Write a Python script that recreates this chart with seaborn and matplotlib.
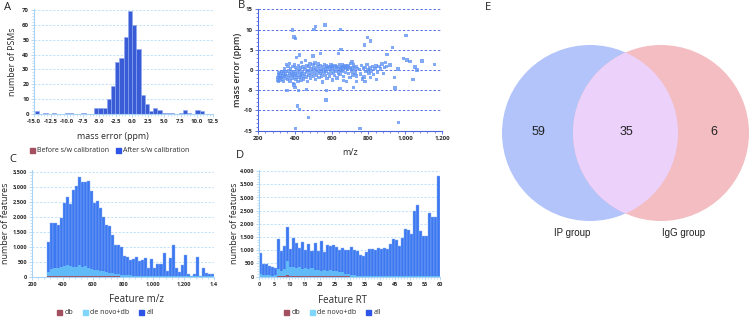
import matplotlib
matplotlib.use("Agg")
import matplotlib.pyplot as plt
from matplotlib.patches import Circle, Patch
from matplotlib.ticker import AutoMinorLocator, FixedLocator
import numpy as np
import pandas as pd
import seaborn as sns

# ---- A: mass error histogram (counts per 0.65 ppm bin, first bin starts -14.9)
err_start = -14.9
err_width = 0.65
err_counts = [2, 0, 1, 0, 1, 0, 0, 1, 1, 0, 0, 1, 0, 0, 4, 4, 4, 10, 19, 35,
              38, 52, 69, 60, 44, 13, 7, 2, 4, 3, 1, 1, 1, 0, 1, 3, 1, 0, 3, 2]

# ---- B: mass error vs m/z (main cloud + outliers)
cloud_pts = [
    (305, -2.5), (308, -1.8), (310, -1.2), (312, -2.9), (315, -0.6), (318, -2.0), (320, -1.5),
    (322, -2.6), (325, -0.9), (328, -1.9), (330, -0.3), (333, -2.2), (335, -1.3), (338, -0.7),
    (340, -2.8), (343, -1.6), (345, 0.2), (348, -1.0), (350, -2.1), (353, -0.4), (355, 1.4),
    (357, -1.4), (360, -2.4), (362, 0.8), (365, -0.2), (367, -1.8), (370, 1.6), (372, -0.9),
    (375, -2.7), (377, 0.4), (380, -1.3), (382, -0.5), (385, -2.0), (387, 0.9), (390, -1.1),
    (392, -3.3), (395, -0.3), (397, 1.2), (400, -1.7), (402, -0.8), (405, 0.6), (407, -2.4),
    (410, -1.4), (412, 0.1), (415, -0.6), (418, -2.9), (420, 1.0), (423, -1.9), (425, -0.2),
    (428, -1.2), (430, 0.5), (433, -2.5), (435, -0.9), (438, 1.9), (440, -1.5), (443, -0.4),
    (445, 0.7), (448, -2.2), (452, -1.0), (455, 0.3), (458, 2.3), (460, -1.7), (463, -0.5),
    (466, 1.1), (468, -2.8), (471, -0.1), (474, -1.3), (477, 0.8), (480, -0.7), (483, 1.6),
    (486, -2.0), (489, 0.2), (492, -1.1), (495, -0.3), (498, 1.3), (501, -1.6), (504, 0.5),
    (507, -0.8), (510, 1.7), (513, -2.4), (516, 0.0), (519, -1.2), (522, 0.9), (525, -0.4),
    (528, 1.5), (531, -1.9), (534, 0.4), (537, -0.9), (540, 1.1), (543, -0.2), (546, -1.5),
    (549, 0.7), (552, -3.0), (555, 0.1), (558, -0.6), (561, 1.3), (564, -1.3), (567, 0.5),
    (570, -0.3), (573, 1.0), (576, -2.1), (579, 0.2), (582, -0.8), (585, 0.9), (588, -1.6),
    (591, 0.6), (594, -0.1), (597, 1.2), (600, -0.9), (603, 0.4), (606, 1.0), (609, -0.5),
    (612, 0.8), (615, -1.4), (618, 0.1), (621, 1.1), (624, -0.3), (627, 0.6), (630, -2.0),
    (633, 0.9), (636, -0.7), (639, 0.3), (642, 1.3), (645, -1.1), (648, 0.5), (651, 0.0),
    (654, 0.9), (657, -0.4), (660, 1.2), (663, 0.2), (666, -1.6), (669, 0.7), (672, 1.0),
    (675, -0.6), (678, 0.4), (681, -2.9), (684, 0.8), (687, 0.1), (690, 1.1), (693, -0.9),
    (696, 0.6), (699, -1.8), (702, 0.3), (705, 1.6), (708, -0.2), (711, 2.1), (714, 0.5),
    (717, -1.2), (720, 1.2), (724, 0.2), (728, -0.7), (732, 0.9), (736, -1.5), (740, 0.4),
    (752, 0.1), (758, -1.0), (763, 1.1), (768, -2.2), (772, 0.3), (777, -1.7), (782, 0.6),
    (787, -0.4), (792, 1.3), (797, 0.0), (803, -0.8), (808, 0.5), (815, -0.2), (822, 0.9),
    (828, -1.1), (835, 0.4), (842, 1.0), (850, -0.5), (858, 0.8), (866, 0.2), (874, 1.5),
    (881, -0.9), (887, 0.6), (893, 1.8), (897, 0.9),
]
outlier_pts = [
    (387, 9.9), (395, 8.2), (405, 7.8), (513, 10.7), (564, 11.1), (505, 10.0), (649, 10.0),
    (796, 8.1), (813, 7.2), (780, 6.2), (1005, 8.5), (931, 5.5), (651, 5.1), (636, 4.1),
    (540, 4.1), (427, 3.7), (409, 3.1), (500, 3.5), (991, 2.9), (1009, 2.5), (1027, 2.1),
    (1091, 2.2), (900, 3.9), (1160, 1.4), (1054, 0.7), (1064, 0.0), (918, 1.2), (960, 0.2),
    (1042, -2.3), (942, -1.8), (945, -4.4), (964, -13.0), (755, -14.4), (404, -14.4),
    (473, -11.7), (427, -9.7), (414, -8.9), (569, -7.4), (573, -5.1), (420, -5.1), (464, -4.8),
    (358, -5.1), (395, -3.7), (402, -4.3), (645, -4.5), (718, -4.3), (845, -2.3), (813, -1.9),
    (782, -2.9), (736, -2.9), (664, -2.6), (604, -2.5),
]

# ---- C: features per 20 m/z bin, 300 - 1400
mz_start = 300
mz_width = 20
c_all = [1170, 1800, 1780, 1720, 1940, 2440, 2660, 2420, 2890, 3030,
         3310, 3140, 3170, 3200, 2860, 2460, 2530, 2300, 1980, 1720,
         1680, 1400, 1050, 1060, 1000, 700, 650, 560, 580, 650,
         520, 560, 610, 280, 600, 280, 420, 420, 800, 200,
         620, 1050, 280, 170, 400, 720, 80, 40, 80, 650,
         40, 300, 130, 100, 80]
c_denovo = [150, 250, 280, 290, 330, 360, 380, 350, 340, 320,
            390, 330, 350, 300, 260, 240, 220, 200, 180, 160,
            140, 120, 100, 90, 70, 60, 50, 45, 40, 40,
            35, 30, 30, 25, 25, 25, 20, 20, 20, 20,
            20, 20, 15, 15, 15, 15, 10, 10, 10, 10,
            10, 10, 10, 10, 10]
c_db = [10, 20, 25, 25, 30, 30, 35, 30, 30, 30,
        35, 30, 30, 25, 25, 20, 20, 20, 15, 15,
        12, 10, 10, 8, 6, 5, 5, 4, 4, 4,
        3, 3, 3, 2, 2, 2, 2, 2, 2, 2,
        2, 2, 1, 1, 1, 1, 1, 1, 1, 1,
        1, 1, 1, 1, 1]

# ---- D: features per 1 min RT bin, 0 - 60
rt_start = 0
rt_width = 1
d_all = [890, 470, 490, 400, 360, 340, 1410, 990, 1150, 1870,
         1050, 1470, 1260, 1100, 1320, 1000, 1230, 980, 1280, 960,
         1370, 940, 1190, 1170, 1210, 1120, 1010, 1100, 1020, 1000,
         1110, 1020, 960, 810, 790, 950, 1050, 1060, 1000, 1070,
         1060, 1080, 1060, 1230, 1430, 1390, 1180, 1450, 1820, 1750,
         1600, 2500, 2720, 1730, 1550, 1550, 2400, 2250, 2250, 3820]
d_denovo = [120, 60, 80, 50, 40, 50, 280, 230, 300, 600,
            350, 370, 340, 380, 300, 330, 280, 330, 250, 260,
            220, 270, 230, 250, 200, 220, 160, 180, 120, 100,
            80, 60, 40, 30, 25, 20, 20, 20, 15, 15,
            15, 15, 15, 15, 15, 15, 15, 15, 15, 15,
            15, 15, 15, 15, 10, 10, 10, 10, 10, 10]
d_db = [5, 5, 5, 5, 5, 5, 30, 25, 35, 60,
        40, 40, 35, 40, 30, 35, 30, 35, 25, 25,
        20, 25, 20, 20, 15, 15, 10, 10, 8, 8,
        5, 5, 5, 5, 5, 5, 5, 5, 5, 5,
        5, 5, 5, 5, 5, 5, 5, 5, 5, 5,
        5, 5, 5, 5, 5, 5, 5, 5, 5, 5]

# ---- E: Venn counts
venn_only_ip = 59
venn_both = 35
venn_only_igg = 6
venn_names = ["IP group", "IgG group"]

W, H = 750, 319
TXT = "#2a2a2a"
LIGHT = "#a9d3f5"
GRID = "#b3dcf8"
B_BLUE = "#4a63de"
A_BAR = "#3a5bd6"
ALL_C = "#3c78f0"
DENOVO_C = "#5fbaf7"
DB_C = "#a2505f"

sns.set_theme(style="white")
plt.rcParams["font.family"] = ["Open Sans", "DejaVu Sans"]
plt.rcParams["axes.unicode_minus"] = False

fig = plt.figure(figsize=(W / 100, H / 100), dpi=100)


def px_axes(x0, y0, x1, y1):
    """Axes from pixel box (top-left origin)."""
    return fig.add_axes([x0 / W, 1 - y1 / H, (x1 - x0) / W, (y1 - y0) / H])


def bold_ticks(ax, size):
    for lbl in ax.get_xticklabels() + ax.get_yticklabels():
        lbl.set_fontweight("bold")
        lbl.set_fontsize(size)
        lbl.set_color(TXT)


def style_axes(ax, spine_col, grid_col, grid_lw=0.6):
    for side in ["top", "right"]:
        ax.spines[side].set_visible(False)
    for side in ["left", "bottom"]:
        ax.spines[side].set_color(spine_col)
        ax.spines[side].set_linewidth(0.8)
    ax.tick_params(axis="both", which="major", colors=spine_col, length=2.2, width=0.6,
                   direction="out", pad=1.5, left=True, bottom=True)
    ax.tick_params(axis="both", which="minor", colors=spine_col, length=1.2, width=0.5,
                   direction="out", left=True, bottom=True)
    ax.xaxis.set_minor_locator(AutoMinorLocator(5))
    ax.yaxis.set_minor_locator(AutoMinorLocator(5))
    ax.grid(False)
    for yv in ax.get_yticks():
        ax.axhline(yv, color=grid_col, lw=grid_lw, ls=(0, (2.5, 2)), zorder=0)


def hist_bars(ax, start, width, counts, color, edge, lw):
    n = len(counts)
    centers = [start + width * (i + 0.5) for i in range(n)]
    df = pd.DataFrame({"x": centers, "n": counts})
    sns.histplot(data=df, x="x", weights="n", binwidth=width,
                 binrange=(start, start + width * n), color=color, alpha=1,
                 edgecolor=edge, linewidth=lw, ax=ax, zorder=2)


def place_labels(ax, xl, yl, xpos, ypos, xsize, ysize, yweight="normal"):
    ax.set_xlabel(xl, fontsize=xsize, color=TXT)
    ax.set_ylabel(yl, fontsize=ysize, color=TXT, fontweight=yweight)
    ax.xaxis.set_label_coords(*xpos)
    ax.yaxis.set_label_coords(*ypos)
    ax.xaxis.label.set_va("center")
    ax.yaxis.label.set_va("center")


# ---------------- A
ax_a = px_axes(34.3, 8.5, 213, 114)
hist_bars(ax_a, err_start, err_width, err_counts, A_BAR, "#8ea7f2", 0.4)
ax_a.set_xlim(-15, 12.5)
ax_a.set_ylim(0, 71)
ax_a.xaxis.set_major_locator(FixedLocator(np.arange(-15, 12.6, 2.5)))
ax_a.yaxis.set_major_locator(FixedLocator(np.arange(0, 71, 10)))
ax_a.set_xticklabels([f"{v:.1f}" for v in np.arange(-15, 12.6, 2.5)])
ax_a.set_yticklabels([str(v) for v in range(0, 71, 10)])
style_axes(ax_a, LIGHT, GRID)
bold_ticks(ax_a, 4.3)
place_labels(ax_a, "mass error (ppm)", "number of PSMs", (0.44, -0.21), (-0.12, 0.5), 6.4, 6.4)

# ---------------- B
ax_b = px_axes(258, 9.3, 442, 130.7)
dfb = pd.DataFrame(cloud_pts + outlier_pts, columns=["mz", "ppm"])
sns.scatterplot(data=dfb, x="mz", y="ppm", marker="s", s=6, color="#5a8ff2", alpha=0.75,
                edgecolor="none", linewidth=0, ax=ax_b, zorder=3)
ax_b.set_xlim(200, 1200)
ax_b.set_ylim(-15, 15)
ax_b.xaxis.set_major_locator(FixedLocator(np.arange(200, 1201, 200)))
ax_b.yaxis.set_major_locator(FixedLocator(np.arange(-15, 16, 5)))
ax_b.set_xticklabels(["200", "400", "600", "800", "1,000", "1,200"])
ax_b.set_yticklabels(["-15", "-10", "-5", "0", "5", "10", "15"])
style_axes(ax_b, B_BLUE, "#5670e6", 0.7)
bold_ticks(ax_b, 4.3)
place_labels(ax_b, "m/z", "mass error (ppm)", (0.5, -0.18), (-0.11, 0.5), 6.4, 6.4, "semibold")

# ---------------- C
ax_c = px_axes(32.3, 170.2, 214, 276.7)
hist_bars(ax_c, mz_start, mz_width, c_all, ALL_C, "#8fb4f8", 0.3)
hist_bars(ax_c, mz_start, mz_width, c_denovo, DENOVO_C, DENOVO_C, 0.0)
hist_bars(ax_c, mz_start, mz_width, c_db, DB_C, DB_C, 0.0)
ax_c.set_xlim(200, 1400)
ax_c.set_ylim(0, 3550)
ax_c.xaxis.set_major_locator(FixedLocator(np.arange(200, 1401, 200)))
ax_c.yaxis.set_major_locator(FixedLocator(np.arange(0, 3501, 500)))
ax_c.set_xticklabels(["200", "400", "600", "800", "1,000", "1,200", "1,4"])
ax_c.set_yticklabels(["0", "500", "1,000", "1,500", "2,000", "2,500", "3,000", "3,500"])
style_axes(ax_c, LIGHT, GRID)
bold_ticks(ax_c, 4.0)
place_labels(ax_c, "Feature m/z", "number of features", (0.576, -0.21), (-0.145, 0.5), 7, 6.5)

# ---------------- D
ax_d = px_axes(259.3, 169.7, 440, 276.7)
hist_bars(ax_d, rt_start, rt_width, d_all, ALL_C, "#8fb4f8", 0.3)
hist_bars(ax_d, rt_start, rt_width, d_denovo, DENOVO_C, DENOVO_C, 0.0)
hist_bars(ax_d, rt_start, rt_width, d_db, DB_C, DB_C, 0.0)
ax_d.set_xlim(0, 60)
ax_d.set_ylim(0, 4050)
ax_d.xaxis.set_major_locator(FixedLocator(np.arange(0, 61, 5)))
ax_d.yaxis.set_major_locator(FixedLocator(np.arange(0, 4001, 500)))
ax_d.set_xticklabels([str(v) for v in range(0, 61, 5)])
ax_d.set_yticklabels(["0", "500", "1,000", "1,500", "2,000", "2,500", "3,000", "3,500", "4,000"])
style_axes(ax_d, LIGHT, GRID)
bold_ticks(ax_d, 4.0)
place_labels(ax_d, "Feature RT", "number of features", (0.463, -0.22), (-0.14, 0.5), 7, 6.5)

# ---------------- legends
leg_kw = dict(frameon=False, handlelength=0.7, handleheight=0.7, handletextpad=0.35,
              borderpad=0, borderaxespad=0, fontsize=5.0, labelcolor=TXT)
fig.legend(handles=[Patch(color=DB_C, label="Before s/w calibration"),
                    Patch(color="#2f55e6", label="After s/w calibration")],
           loc="center left", bbox_to_anchor=(30 / W, 1 - 151 / H), ncol=2,
           columnspacing=0.9, **leg_kw)
for x0 in (57, 284):
    fig.legend(handles=[Patch(color=DB_C, label="db"),
                        Patch(color="#7fd5fa", label="de novo+db"),
                        Patch(color="#2f55e6", label="all")],
               loc="center left", bbox_to_anchor=(x0 / W, 1 - 313 / H), ncol=3,
               columnspacing=1.4, **leg_kw)

# ---------------- E (Venn)
ax_e = fig.add_axes([470 / W, 0, 280 / W, 1])
ax_e.set_xlim(470, 750)
ax_e.set_ylim(H, 0)
ax_e.axis("off")
left_c = Circle((590, 133), 88, facecolor="#b3c4fb", edgecolor="none")
right_c = Circle((661, 133), 88, facecolor="#f3bdc2", edgecolor="none")
ax_e.add_patch(left_c)
ax_e.add_patch(right_c)
mid_c = Circle((661, 133), 88, facecolor="#ecd1fa", edgecolor="none")
ax_e.add_patch(mid_c)
mid_c.set_clip_path(left_c)
venn_font = ["Liberation Sans", "DejaVu Sans"]
for xv, val in [(538, venn_only_ip), (626, venn_both), (714, venn_only_igg)]:
    ax_e.text(xv, 132, str(val), ha="center", va="center", fontsize=9, color="#222222",
              family=venn_font)
for xv, name in [(572, venn_names[0]), (684, venn_names[1])]:
    ax_e.text(xv, 233, name, ha="center", va="center", fontsize=7, color="#222222",
              family=venn_font)

# ---------------- panel letters
for x, y, letter in [(4, 8, "A"), (238, 5, "B"), (9, 160, "C"), (236, 156, "D"), (485, 8, "E")]:
    fig.text(x / W, 1 - y / H, letter, fontsize=8, color="#222222", va="center", ha="left")

fig.savefig("out.png", dpi=100)
